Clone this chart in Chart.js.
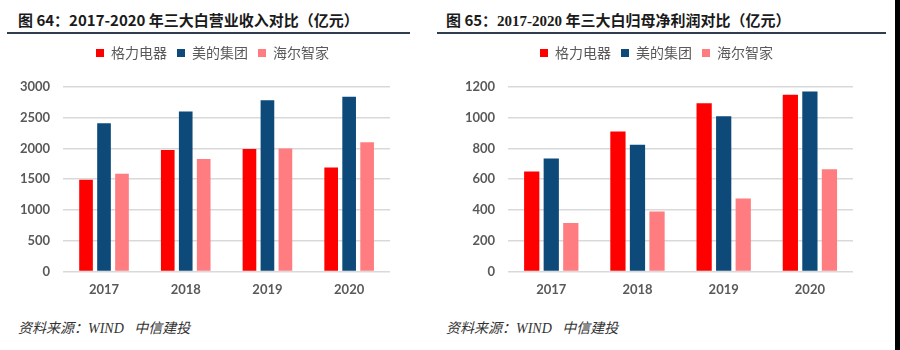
<!DOCTYPE html>
<html lang="zh-CN">
<head>
<meta charset="UTF-8">
<title>三大白营收与净利润对比</title>
<script src="https://cdn.jsdelivr.net/npm/chart.js"></script>
<style>
  body {
    margin: 0;
    width: 900px;
    height: 350px;
    background: #fff;
    position: relative;
    overflow: hidden;
    font-family: "Noto Sans CJK SC", sans-serif;
  }
  .title {
    position: absolute;
    top: 9px;
    font-size: 15px;
    font-weight: bold;
    color: #1a1a1a;
    white-space: nowrap;
  }
  .title .serif { font-family: "Liberation Serif", serif; }
  .rule {
    position: absolute;
    top: 32px;
    height: 2px;
    background: #2f3e4e;
  }
  .box { position: absolute; top: 36px; height: 279px; }
  .note {
    position: absolute;
    top: 317px;
    font-family: "Liberation Serif", "Noto Sans CJK SC", serif;
    font-style: italic;
    font-size: 14px;
    color: #333;
    white-space: nowrap;
  }
  .edge { position: absolute; left: 895px; top: 0; width: 5px; height: 350px; background: #000; }
</style>
</head>
<body>
  <div class="title" style="left:18px;">图 64：2017-2020 年三大白营业收入对比（亿元）</div>
  <div class="rule" style="left:7px; width:403px;"></div>
  <div class="title" style="left:446px;">图 65：<span class="serif">2017-2020</span> 年三大白归母净利润对比（亿元）</div>
  <div class="rule" style="left:437px; width:449px;"></div>

  <div class="box" style="left:0; width:430px;"><canvas id="revChart" width="430" height="279"></canvas></div>
  <div class="box" style="left:440px; width:440px;"><canvas id="profitChart" width="440" height="279"></canvas></div>

  <div class="note" style="left:18px;">资料来源：WIND&nbsp;&nbsp;&nbsp;中信建投</div>
  <div class="note" style="left:446px;">资料来源：WIND&nbsp;&nbsp;&nbsp;中信建投</div>
  <div class="edge"></div>

  <script>
    // 年份和公司
    const years = ['2017', '2018', '2019', '2020'];
    const companies = ['格力电器', '美的集团', '海尔智家'];
    const colors = ['#ff0000', '#0d4a7a', '#ff7c80'];

    // 营业收入（亿元），读自原图
    const revGree  = [1490, 1975, 1990, 1690];
    const revMidea = [2410, 2600, 2785, 2840];
    const revHaier = [1590, 1830, 2000, 2100];

    // 归母净利润（按原图刻度）
    const profitGree  = [650, 910, 1095, 1150];
    const profitMidea = [735, 825, 1010, 1170];
    const profitHaier = [315, 390, 475, 665];

    const tickFont = { family: 'Lato', size: 13, weight: 'bold' };

    // 图例高度固定，让绘图区顶部对齐原图；图例再水平挪一点
    const legendHeight = {
      id: 'legendHeight',
      beforeInit(chart) {
        const fit = chart.legend.fit;
        chart.legend.fit = function () {
          fit.call(this);
          this.height = chart.options.plugins.legendHeight.h;
        };
      },
      afterLayout(chart, args, opts) {
        chart.legend.left += opts.dx;
        chart.legend.right += opts.dx;
      }
    };

    function buildChart(id, series, max, step, pad, catPct, barPct, dx) {
      const ctx = document.getElementById(id).getContext('2d');
      return new Chart(ctx, {
        type: 'bar',
        data: {
          labels: years,
          datasets: series.map((d, i) => ({
            label: companies[i],
            data: d,
            backgroundColor: colors[i],
            categoryPercentage: catPct,
            barPercentage: barPct
          }))
        },
        options: {
          responsive: false,
          animation: false,
          layout: { padding: pad },
          plugins: {
            legendHeight: { h: 51, dx: dx },
            tooltip: { enabled: false },
            legend: {
              position: 'top',
              labels: {
                boxWidth: 8,
                boxHeight: 8,
                padding: 10,
                color: '#595959',
                font: { family: 'Noto Sans CJK SC', size: 14 }
              }
            }
          },
          scales: {
            x: {
              grid: { display: false, drawTicks: false },
              border: { display: false },
              ticks: { color: '#595959', font: tickFont, padding: 11 }
            },
            y: {
              min: 0,
              max: max,
              ticks: {
                stepSize: step,
                color: '#595959',
                font: tickFont,
                padding: 13,
                callback: v => String(v)
              },
              grid: { color: '#d9d9d9', lineWidth: 1.5, drawTicks: false },
              border: { display: false }
            }
          }
        },
        plugins: [legendHeight]
      });
    }

    buildChart('revChart', [revGree, revMidea, revHaier], 3000, 500,
      { left: 7, right: 40, top: 0, bottom: 6 }, 0.66, 0.76, 14);
    buildChart('profitChart', [profitGree, profitMidea, profitHaier], 1200, 200,
      { left: 12, right: 27, top: 0, bottom: 6 }, 0.68, 0.78, 4);
  </script>
</body>
</html>
